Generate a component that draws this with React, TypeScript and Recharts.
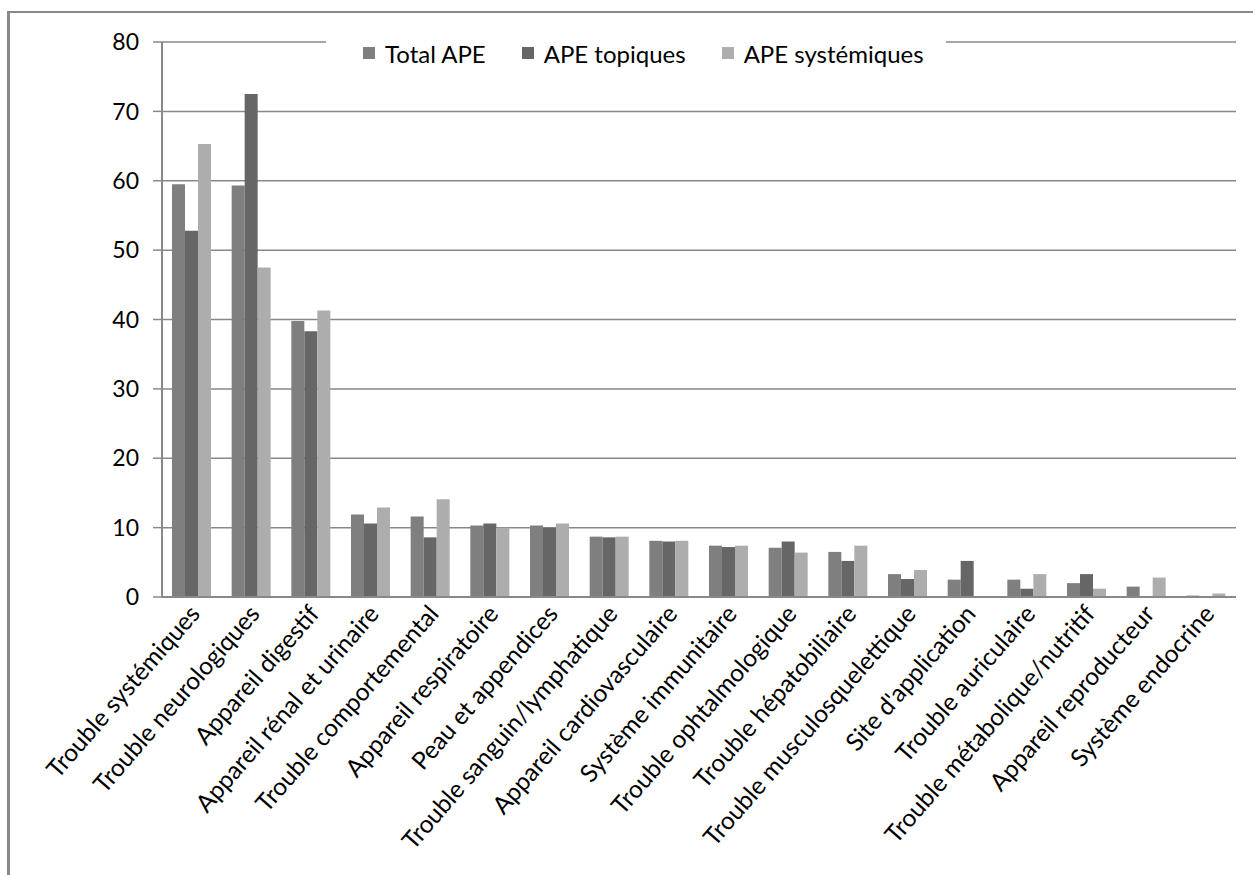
import { BarChart, Bar, XAxis, YAxis, CartesianGrid, Legend } from 'recharts'

const categories = [
  'Trouble systémiques',
  'Trouble neurologiques',
  'Appareil digestif',
  'Appareil rénal et urinaire',
  'Trouble comportemental',
  'Appareil respiratoire',
  'Peau et appendices',
  'Trouble sanguin/lymphatique',
  'Appareil cardiovasculaire',
  'Système immunitaire',
  'Trouble ophtalmologique',
  'Trouble hépatobiliaire',
  'Trouble musculosquelettique',
  "Site d'application",
  'Trouble auriculaire',
  'Trouble métabolique/nutritif',
  'Appareil reproducteur',
  'Système endocrine',
]

const totalAPE = [59.5, 59.3, 39.8, 11.9, 11.6, 10.3, 10.3, 8.7, 8.1, 7.4, 7.1, 6.5, 3.3, 2.5, 2.5, 2.0, 1.5, 0.2]
const apeTopiques = [52.8, 72.5, 38.3, 10.6, 8.6, 10.6, 10.0, 8.6, 8.0, 7.2, 8.0, 5.2, 2.6, 5.2, 1.2, 3.3, 0, 0]
const apeSystemiques = [65.3, 47.5, 41.3, 12.9, 14.1, 10.0, 10.6, 8.7, 8.1, 7.4, 6.4, 7.4, 3.9, 0, 3.3, 1.2, 2.8, 0.5]

const yTicks = [0, 10, 20, 30, 40, 50, 60, 70, 80]
const boundaryTicks = categories.map((_, i) => i).concat(categories.length)

const series = [
  { key: 'total', name: 'Total APE', color: '#7f7f7f' },
  { key: 'topiques', name: 'APE topiques', color: '#666666' },
  { key: 'systemiques', name: 'APE systémiques', color: '#adadad' },
]

const data = categories.map((name, i) => ({
  name,
  total: totalAPE[i],
  topiques: apeTopiques[i],
  systemiques: apeSystemiques[i],
}))

const FONT = 'Lato, "Open Sans", sans-serif'

const CategoryTick = ({ x, y, payload }: any) => (
  <g transform={`translate(${x + 3},${y + 4})`}>
    <text x={0} y={0} dy="0.35em" textAnchor="end" transform="rotate(-49)" fontSize={24.5} fontFamily={FONT} fill="#000">
      {payload.value}
    </text>
  </g>
)

const LegendBox = () => (
  <div style={{ background: '#fff', display: 'flex', justifyContent: 'flex-start', alignItems: 'center', height: 40, paddingLeft: 37, boxSizing: 'border-box', whiteSpace: 'nowrap', fontFamily: FONT, fontSize: 24, color: '#000' }}>
    {series.map((s) => (
      <div key={s.key} style={{ display: 'flex', alignItems: 'center', marginRight: 36, flexShrink: 0 }}>
        <span style={{ width: 12, height: 12, background: s.color, display: 'inline-block', marginRight: 10 }} />
        <span>{s.name}</span>
      </div>
    ))}
  </div>
)

export default function App() {
  return (
    <div style={{ position: 'absolute', left: 0, top: 0, width: 1253, height: 875, background: '#fff' }}>
      <div style={{ position: 'absolute', left: 7, top: 11, right: 0, bottom: 0, borderTop: '2px solid #888', borderLeft: '3px solid #888' }} />
      <div style={{ position: 'absolute', left: 0, top: 0 }}>
        <BarChart width={1253} height={875} data={data} margin={{ top: 42, right: 17, left: 102, bottom: 28 }} barSize={13} barGap={0}>
          <CartesianGrid vertical={false} stroke="#888" strokeWidth={1.5} />
          <XAxis
            xAxisId="b"
            type="number"
            domain={[0, categories.length]}
            ticks={boundaryTicks}
            allowDataOverflow
            height={0}
            axisLine={false}
            tick={false}
            tickSize={9}
            tickLine={{ stroke: '#888', strokeWidth: 1.5 }}
          />
          <XAxis
            dataKey="name"
            interval={0}
            height={250}
            axisLine={{ stroke: '#888', strokeWidth: 2 }}
            tickLine={false}
            tick={<CategoryTick />}
          />
          <YAxis
            domain={[0, 80]}
            ticks={yTicks}
            width={60}
            axisLine={{ stroke: '#888', strokeWidth: 2 }}
            tickLine={{ stroke: '#888', strokeWidth: 1.5 }}
            tickSize={9}
            tickMargin={14}
            tick={{ fontSize: 23, fontFamily: FONT, fill: '#000' }}
          />
          <Legend
            layout="horizontal"
            verticalAlign="middle"
            align="center"
            wrapperStyle={{ top: 33, left: 326, width: 620 }}
            content={<LegendBox />}
          />
          {series.map((s) => (
            <Bar key={s.key} dataKey={s.key} name={s.name} fill={s.color} isAnimationActive={false} />
          ))}
        </BarChart>
      </div>
    </div>
  )
}
